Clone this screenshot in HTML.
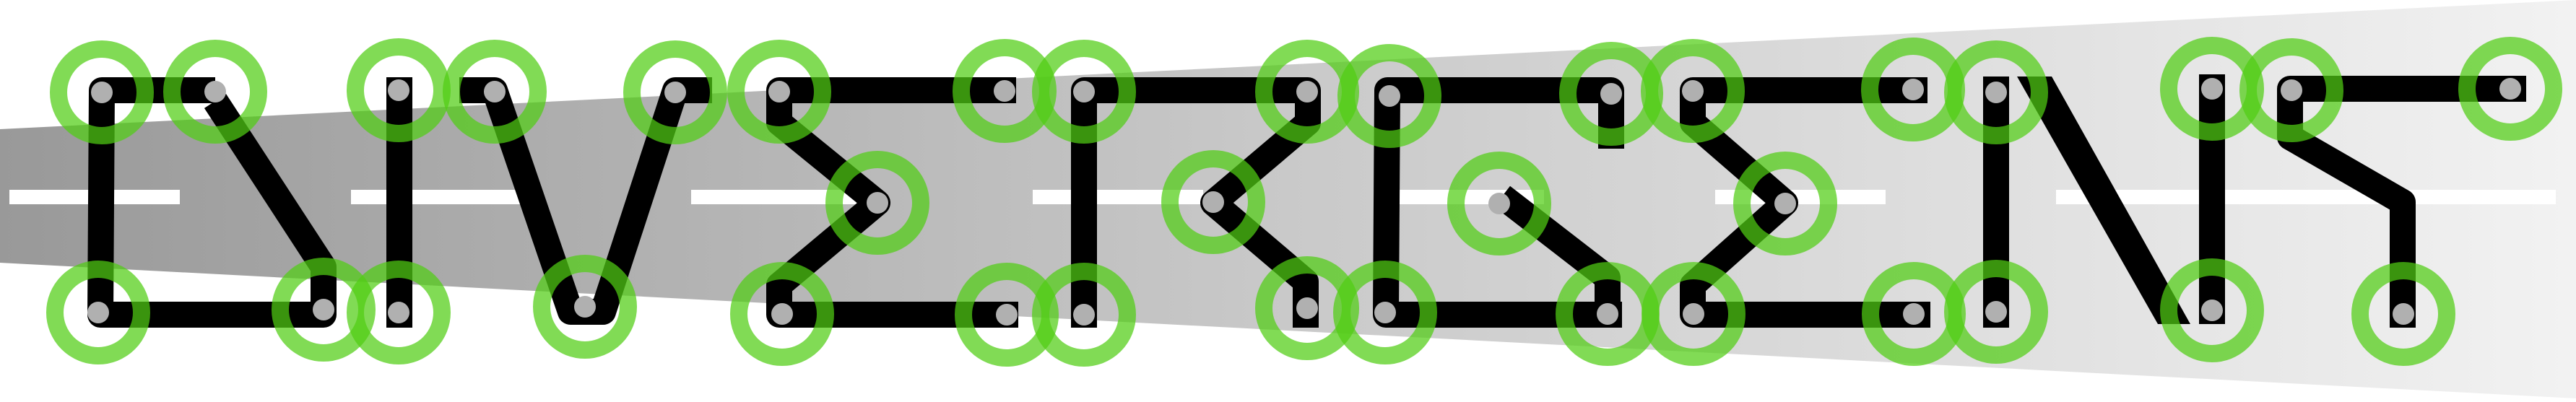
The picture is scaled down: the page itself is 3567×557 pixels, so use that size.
<!DOCTYPE html>
<html><head><meta charset="utf-8"><style>
html,body{margin:0;padding:0;background:#fff;}
svg{display:block;}
</style></head><body>
<svg width="3567" height="557" viewBox="0 0 3567 557" xmlns="http://www.w3.org/2000/svg">
<defs>
<linearGradient id="g" x1="0" y1="0" x2="3567" y2="0" gradientUnits="userSpaceOnUse">
<stop offset="0" stop-color="#999"/>
<stop offset="0.5" stop-color="#c9c9c9"/>
<stop offset="1" stop-color="#f2f2f2"/>
</linearGradient>
</defs>
<polygon points="0,179 3567,0 3567,552 0,364" fill="url(#g)"/>
<g fill="#fff">
<rect x="13" y="263" width="236" height="20"/>
<rect x="486" y="263" width="236" height="20"/>
<rect x="957" y="263" width="236" height="20"/>
<rect x="1430" y="263" width="236" height="20"/>
<rect x="1902" y="263" width="236" height="20"/>
<rect x="2375" y="263" width="236" height="20"/>
<rect x="2847" y="263" width="692" height="20"/>
</g>
<g fill="none" stroke="#000" stroke-width="36" stroke-linejoin="round">
<path d="M298,125 L141,125 L139,436 L448,436 L448,370 L298,140"/>
<path d="M553,107 L553,454"/>
<path d="M636,125 L685,125 L790,432 L835,432 L935,125 L986,125"/>
<path d="M1407,125 L1079,125 L1079,170 L1215,281 L1079,395 L1079,436 L1410,436"/>
<path d="M1501,454 L1501,125 L1811,125 L1811,170 L1680,281 L1808,390 L1808,454"/>
<path d="M2231,206 L2231,125 L1921,125 L1919,436 L2246,436"/>
<path d="M2080,272 L2226,385 L2226,430"/>
<path d="M2669,125 L2344,125 L2344,170 L2472,281 L2344,395 L2344,436 L2673,436"/>
<path d="M2764,106 L2764,454"/>
<path d="M3063,103 L3063,449"/>
<path d="M3498,123 L3171,123 L3171,190 L3327,280 L3327,454"/>
</g>
<polygon points="2793,106 2841,106 3033,449 2988,449" fill="#000"/>
<g id="nodes">
<g fill="none" stroke="rgba(81,205,20,0.72)" stroke-width="24">
<circle cx="141" cy="128" r="60"/><circle cx="298" cy="127" r="60"/><circle cx="552" cy="125" r="60"/><circle cx="685" cy="127" r="60"/><circle cx="935" cy="128" r="60"/><circle cx="1079" cy="127" r="60"/><circle cx="1391" cy="126" r="60"/><circle cx="1501" cy="127" r="60"/><circle cx="1810" cy="127" r="60"/><circle cx="1924" cy="133" r="60"/><circle cx="2231" cy="130" r="60"/><circle cx="2344" cy="126" r="60"/><circle cx="2649" cy="124" r="60"/><circle cx="2764" cy="128" r="60"/><circle cx="3063" cy="123" r="60"/><circle cx="3173" cy="125" r="60"/><circle cx="3476" cy="123" r="60"/>
<circle cx="136" cy="433" r="60"/><circle cx="448" cy="429" r="60"/><circle cx="552" cy="433" r="60"/><circle cx="810" cy="425" r="60"/><circle cx="1083" cy="435" r="60"/><circle cx="1394" cy="436" r="60"/><circle cx="1501" cy="436" r="60"/><circle cx="1810" cy="427" r="60"/><circle cx="1918" cy="433" r="60"/><circle cx="2226" cy="435" r="60"/><circle cx="2345" cy="435" r="60"/><circle cx="2650" cy="435" r="60"/><circle cx="2764" cy="432" r="60"/><circle cx="3063" cy="430" r="60"/><circle cx="3328" cy="435" r="60"/>
<circle cx="1215" cy="281" r="60"/><circle cx="1680" cy="280" r="60"/><circle cx="2076" cy="282" r="60"/><circle cx="2472" cy="282" r="60"/>
</g>
<g fill="#b0b0b0">
<ellipse cx="141" cy="128" rx="15" ry="15"/><ellipse cx="298" cy="127" rx="15" ry="15"/><ellipse cx="552" cy="125" rx="15" ry="15"/><ellipse cx="685" cy="127" rx="15" ry="15"/><ellipse cx="935" cy="128" rx="15" ry="15"/><ellipse cx="1079" cy="127" rx="15" ry="15"/><ellipse cx="1391" cy="126" rx="15" ry="15"/><ellipse cx="1501" cy="127" rx="15" ry="15"/><ellipse cx="1810" cy="127" rx="15" ry="15"/><ellipse cx="1924" cy="133" rx="15" ry="15"/><ellipse cx="2231" cy="130" rx="15" ry="15"/><ellipse cx="2344" cy="126" rx="15" ry="15"/><ellipse cx="2649" cy="124" rx="15" ry="15"/><ellipse cx="2764" cy="128" rx="15" ry="15"/><ellipse cx="3063" cy="123" rx="15" ry="15"/><ellipse cx="3173" cy="125" rx="15" ry="15"/><ellipse cx="3476" cy="123" rx="15" ry="15"/>
<ellipse cx="136" cy="433" rx="15" ry="15"/><ellipse cx="448" cy="429" rx="15" ry="15"/><ellipse cx="552" cy="433" rx="15" ry="15"/><ellipse cx="810" cy="425" rx="15" ry="15"/><ellipse cx="1083" cy="435" rx="15" ry="15"/><ellipse cx="1394" cy="436" rx="15" ry="15"/><ellipse cx="1501" cy="436" rx="15" ry="15"/><ellipse cx="1810" cy="427" rx="15" ry="15"/><ellipse cx="1918" cy="433" rx="15" ry="15"/><ellipse cx="2226" cy="435" rx="15" ry="15"/><ellipse cx="2345" cy="435" rx="15" ry="15"/><ellipse cx="2650" cy="435" rx="15" ry="15"/><ellipse cx="2764" cy="432" rx="15" ry="15"/><ellipse cx="3063" cy="430" rx="15" ry="15"/><ellipse cx="3328" cy="435" rx="15" ry="15"/>
<ellipse cx="1215" cy="281" rx="15" ry="15"/><ellipse cx="1680" cy="280" rx="15" ry="15"/><ellipse cx="2076" cy="282" rx="15" ry="15"/><ellipse cx="2472" cy="282" rx="15" ry="15"/>
</g>
</g>
</svg>
</body></html>
